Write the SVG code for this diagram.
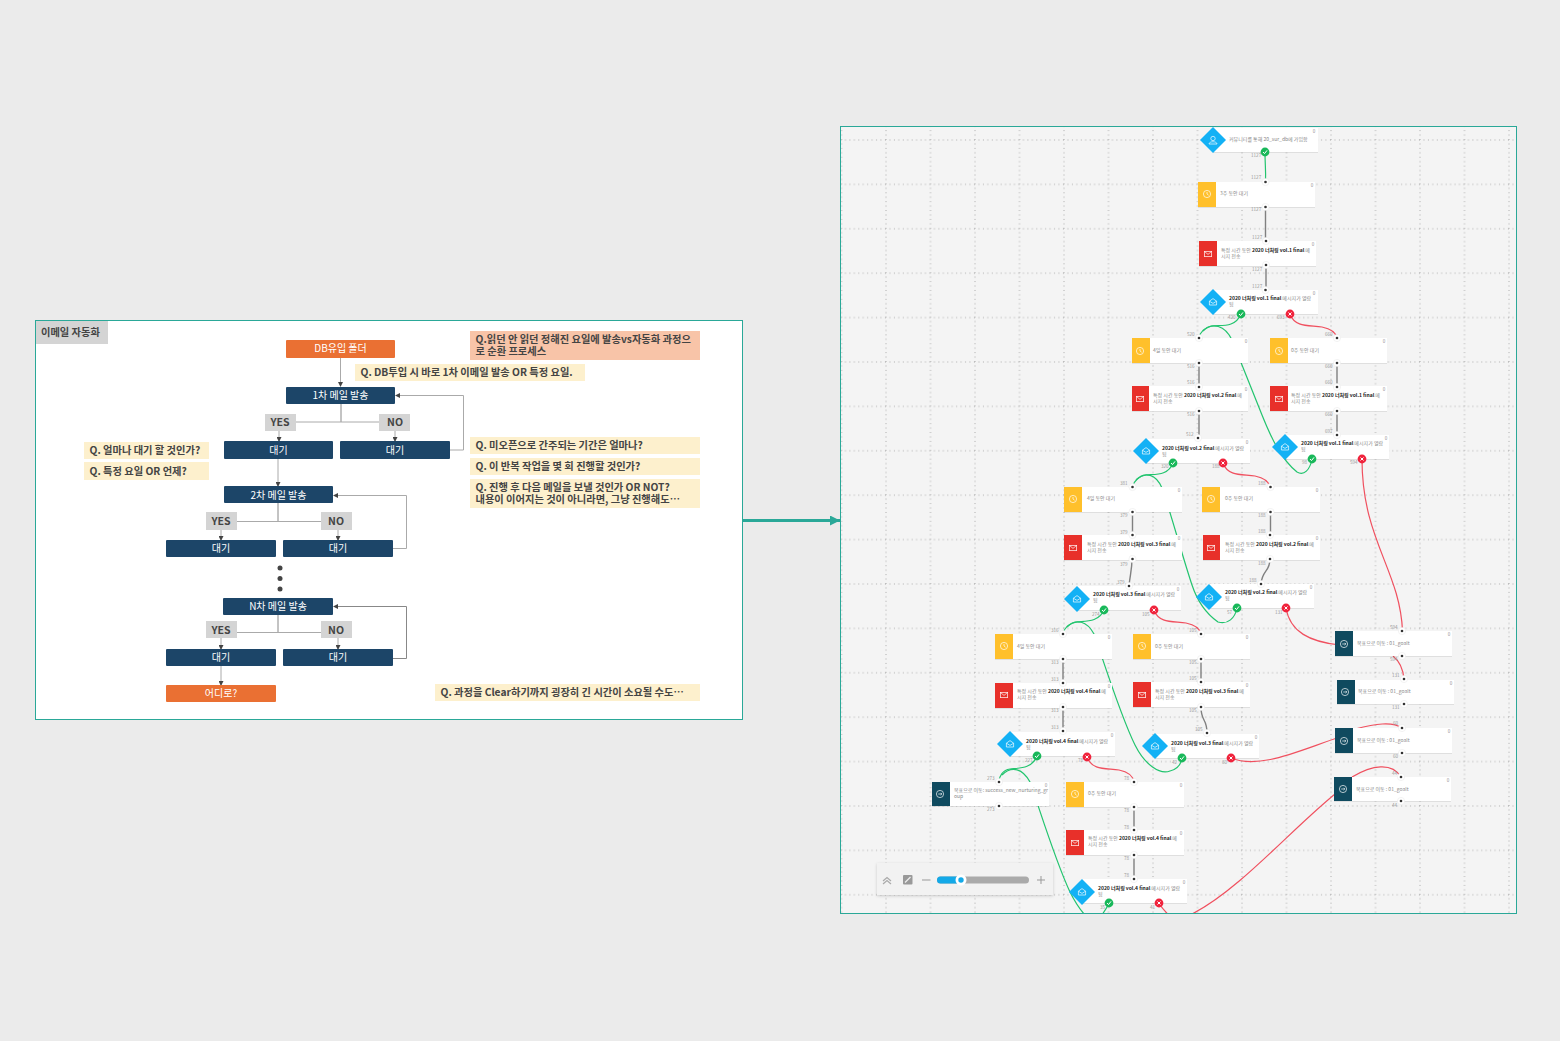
<svg xmlns="http://www.w3.org/2000/svg" width="1560" height="1041" viewBox="0 0 1560 1041">
<style>
text{font-family:"Noto Sans CJK KR","Noto Sans",sans-serif}
.panel{fill:#fff;stroke:#2aa898;stroke-width:1}
.navy{fill:#1c4568}.org{fill:#ea7033}.yn{fill:#d4d4d4}.q{fill:#fdf0cd}.qo{fill:#f8c4a8}
.wt{fill:#fff;font-size:10px;text-anchor:middle}
.ynt{fill:#444;font-size:10.5px;font-weight:700;text-anchor:middle}
.qt{fill:#444;font-size:10.25px;font-weight:700}
.ln{fill:none;stroke:#aaa;stroke-width:1}
.lnd{fill:none;stroke:#888;stroke-width:1}
.card{fill:#fff;filter:url(#sh)}
.yel{fill:#ffc02b}.red{fill:#e8302a}.dark{fill:#0f4a5f}.dia{fill:#13b1f5}
.t{font-size:5px;fill:#888}.b{fill:#222;font-weight:700}
.n{font-size:4.6px;fill:#999}.c{font-size:4.6px;fill:#999;text-anchor:middle}
.g{fill:none;stroke:#22c46e;stroke-width:1.2}
.r{fill:none;stroke:#f0505f;stroke-width:1.2}
.k{fill:none;stroke:#808080;stroke-width:1.4}
.ic{fill:none;stroke:#fff;stroke-width:.8;opacity:.85}
</style>
<defs>
<marker id="ah" markerWidth="5" markerHeight="5" refX="4" refY="2.5" orient="auto" markerUnits="userSpaceOnUse"><path d="M0 0L5 2.5L0 5z" fill="#444"/></marker>
<marker id="big" markerWidth="12" markerHeight="12" refX="10" refY="5" orient="auto" markerUnits="userSpaceOnUse"><path d="M0 0L10 5L0 10z" fill="#2aa898"/></marker>
<filter id="sh" x="-5%" y="-10%" width="110%" height="125%"><feDropShadow dx="0" dy=".6" stdDeviation=".6" flood-color="#000" flood-opacity=".14"/></filter>
<filter id="sh2" x="-5%" y="-10%" width="110%" height="130%"><feDropShadow dx="0" dy="1" stdDeviation="1.5" flood-color="#000" flood-opacity=".18"/></filter>
<pattern id="grid" patternUnits="userSpaceOnUse" x="1152" y="139" width="44.5" height="44.4">
<path d="M1 0V44.4M0 1H44.5" fill="none" stroke="#aaa" stroke-width="1" stroke-dasharray="1 3.44"/>
</pattern>
<clipPath id="clip"><rect x="841" y="127" width="675" height="786"/></clipPath>
<g id="port"><circle r="3.6" fill="#fff" stroke="#e6e6e6" stroke-width=".5"/><circle r="1.3" fill="#333"/></g>
<g id="ok"><circle r="4.4" fill="#19b85a"/><path d="M-2 0L-.5 1.6L2 -1.6" fill="none" stroke="#fff" stroke-width="1"/></g>
<g id="no"><circle r="4.4" fill="#f0233c"/><path d="M-1.5 -1.5L1.5 1.5M1.5 -1.5L-1.5 1.5" fill="none" stroke="#fff" stroke-width="1"/></g>
<g id="clock"><circle r="3.6" class="ic"/><path d="M0 -2V0L1.6 1.2" class="ic"/></g>
<g id="mail"><rect x="-3.6" y="-2.6" width="7.2" height="5.2" class="ic"/><path d="M-3.6 -2.6L0 .4L3.6 -2.6" class="ic"/></g>
<g id="open"><path d="M-3.6 -.8L0 -3.4L3.6 -.8V3H-3.6zM-3.6 -.8L0 1.4L3.6 -.8" class="ic"/></g>
<g id="goal"><circle r="3.6" class="ic"/><path d="M-1.8 0H1.8M.6 -1.2L1.8 0L.6 1.2" class="ic"/></g>
<polygon id="dm" points="0,-13 13,0 0,13 -13,0" class="dia"/>
</defs>
<rect width="1560" height="1041" fill="#ebebeb"/>

<!-- left flow panel -->
<rect class="panel" x="35.5" y="320.5" width="707" height="399"/>
<g id="title"><rect class="yn" x="36" y="321" width="72" height="23"/><text class="qt" x="41" y="336">이메일 자동화</text></g>

<g id="flow-connectors">
<path class="ln" d="M340.500 358V386" marker-end="url(#ah)"/>
<path class="lnd" d="M341 404V422"/><path class="ln" d="M296 422H379"/>
<path class="ln" d="M279 431V441" marker-end="url(#ah)"/><path class="ln" d="M395 431V441" marker-end="url(#ah)"/>
<path class="ln" d="M450 450H463.500V395.500H396" marker-end="url(#ah)"/>
<path class="ln" d="M278 459V486" marker-end="url(#ah)"/>
<path class="lnd" d="M278 503V521.500"/><path class="ln" d="M237 521.500H321"/>
<path class="ln" d="M221 530V540" marker-end="url(#ah)"/><path class="ln" d="M338 530V540" marker-end="url(#ah)"/>
<path class="ln" d="M393 548.500H406.500V495.500H334" marker-end="url(#ah)"/>
<path class="lnd" d="M278 615V632.500"/><path class="ln" d="M237 632.500H321"/>
<path class="ln" d="M221 638V649" marker-end="url(#ah)"/><path class="ln" d="M338 638V649" marker-end="url(#ah)"/>
<path class="lnd" d="M393 658.500H406.500V606.500H334" marker-end="url(#ah)"/>
<path class="ln" d="M221 666V685" marker-end="url(#ah)"/>
</g>

<g id="f-db"><rect class="org" x="286" y="340" width="109" height="18" rx="1"/><text class="wt" x="340.500" y="352">DB유입 폴더</text></g>
<g id="f-m1"><rect class="navy" x="286" y="387" width="109" height="17" rx="1"/><text class="wt" x="340.500" y="399">1차 메일 발송</text></g>
<g id="f-y1"><rect class="yn" x="265" y="414" width="31" height="17"/><text class="ynt" x="280" y="426">YES</text></g>
<g id="f-n1"><rect class="yn" x="379" y="414" width="31" height="17"/><text class="ynt" x="395" y="426">NO</text></g>
<g id="f-w1"><rect class="navy" x="224" y="441" width="109" height="18" rx="1"/><text class="wt" x="278.500" y="453.500">대기</text></g>
<g id="f-w2"><rect class="navy" x="340" y="441" width="110" height="18" rx="1"/><text class="wt" x="395" y="453.500">대기</text></g>
<g id="f-m2"><rect class="navy" x="224" y="486" width="109" height="17" rx="1"/><text class="wt" x="278.500" y="498.500">2차 메일 발송</text></g>
<g id="f-y2"><rect class="yn" x="206" y="512" width="31" height="18"/><text class="ynt" x="221" y="524.500">YES</text></g>
<g id="f-n2"><rect class="yn" x="321" y="512" width="31" height="18"/><text class="ynt" x="336" y="524.500">NO</text></g>
<g id="f-w3"><rect class="navy" x="166" y="540" width="110" height="17" rx="1"/><text class="wt" x="221" y="552">대기</text></g>
<g id="f-w4"><rect class="navy" x="283" y="540" width="110" height="17" rx="1"/><text class="wt" x="338" y="552">대기</text></g>
<g id="f-dots" fill="#444"><circle cx="280" cy="568" r="2.500"/><circle cx="280" cy="578.500" r="2.500"/><circle cx="280" cy="589" r="2.500"/></g>
<g id="f-mn"><rect class="navy" x="223" y="598" width="110" height="17" rx="1"/><text class="wt" x="278" y="610">N차 메일 발송</text></g>
<g id="f-y3"><rect class="yn" x="206" y="621" width="31" height="17"/><text class="ynt" x="221" y="633.500">YES</text></g>
<g id="f-n3"><rect class="yn" x="321" y="621" width="31" height="17"/><text class="ynt" x="336" y="633.500">NO</text></g>
<g id="f-w5"><rect class="navy" x="166" y="649" width="110" height="17" rx="1"/><text class="wt" x="221" y="661">대기</text></g>
<g id="f-w6"><rect class="navy" x="283" y="649" width="110" height="17" rx="1"/><text class="wt" x="338" y="661">대기</text></g>
<g id="f-end"><rect class="org" x="166" y="685" width="110" height="17" rx="1"/><text class="wt" x="221" y="697">어디로?</text></g>

<g id="q1"><rect class="qo" x="470" y="331" width="230" height="29"/><text class="qt" x="475.500" y="343">Q.읽던 안 읽던 정해진 요일에 발송vs자동화 과정으</text><text class="qt" x="475.500" y="355">로 순환 프로세스</text></g>
<g id="q2"><rect class="q" x="355" y="364" width="230" height="17"/><text class="qt" x="360.500" y="376">Q. DB투입 시 바로 1차 이메일 발송 OR 특정 요일.</text></g>
<g id="q3"><rect class="q" x="84" y="442" width="125" height="17"/><text class="qt" x="89.500" y="454">Q. 얼마나 대기 할 것인가?</text></g>
<g id="q4"><rect class="q" x="84" y="462" width="125" height="18"/><text class="qt" x="89.500" y="475">Q. 특정 요일 OR 언제?</text></g>
<g id="q5"><rect class="q" x="470" y="437" width="230" height="17"/><text class="qt" x="475.500" y="449">Q. 미오픈으로 간주되는 기간은 얼마나?</text></g>
<g id="q6"><rect class="q" x="470" y="458" width="230" height="17"/><text class="qt" x="475.500" y="470">Q. 이 반복 작업을 몇 회 진행할 것인가?</text></g>
<g id="q7"><rect class="q" x="470" y="479" width="230" height="29"/><text class="qt" x="475.500" y="491">Q. 진행 후 다음 메일을 보낼 것인가 OR NOT?</text><text class="qt" x="475.500" y="503">내용이 이어지는 것이 아니라면, 그냥 진행해도…</text></g>
<g id="q8"><rect class="q" x="435" y="684" width="265" height="17"/><text class="qt" x="440.500" y="696">Q. 과정을 Clear하기까지 굉장히 긴 시간이 소요될 수도…</text></g>

<g id="link"><path d="M743 520.500H840" fill="none" stroke="#2aa898" stroke-width="3" marker-end="url(#big)"/></g>

<!-- right automation canvas -->
<rect x="840.500" y="126.500" width="676" height="787" fill="#f4f4f4"/>
<rect x="841" y="127" width="675" height="786" fill="url(#grid)"/>
<g clip-path="url(#clip)">
<g id="connectors">
<path class="g" d="M1265 152C1265 165 1266 170 1265.500 182"/>
<path class="k" d="M1265.500 207V241M1266 265V290"/>
<path class="g" d="M1241 314C1235 328 1222 325 1212 326C1205 327 1200 332 1199 338"/>
<path class="g" d="M1203 331C1212 322 1225 325 1232 340C1240 360 1250 385 1262 415C1272 440 1282 460 1297 472C1304 476 1310 470 1312 459"/>
<path class="r" d="M1290 314C1295 328 1310 325 1322 327C1332 329 1336 333 1337 338"/>
<path class="k" d="M1199 363V387M1199 411V438M1337 363V387M1337 411V435"/>
<path class="g" d="M1173 463C1168 476 1155 474 1146 475C1139 476 1134 481 1133 486"/>
<path class="g" d="M1136 480C1145 471 1156 474 1162 488C1170 510 1182 555 1192 585C1198 603 1208 615 1218 622C1228 625 1235 618 1237 608"/>
<path class="r" d="M1223 463C1228 477 1243 474 1255 476C1265 478 1269 482 1270 487"/>
<path class="k" d="M1132.500 512V535M1132 559C1132 570 1130 575 1129 586M1270.500 512V535M1270 559C1270 572 1262 570 1261 584"/>
<path class="g" d="M1104 610C1099 622 1086 621 1077 622C1069 623 1064 628 1063 634"/>
<path class="g" d="M1067 627C1076 618 1087 621 1094 634C1100 650 1120 715 1135 745C1145 765 1160 775 1170 771C1178 769 1181 765 1182 758"/>
<path class="r" d="M1154 610C1159 624 1174 621 1186 623C1196 625 1200 629 1201 634"/>
<path class="k" d="M1063 659V683M1063 707V731M1201 659V682M1201 707C1201 722 1207 718 1207 733"/>
<path class="g" d="M1037 756C1032 769 1019 768 1010 769C1003 770 999 776 999 782"/>
<path class="g" d="M1002 775C1012 765 1023 769 1030 782C1040 810 1055 860 1070 892C1080 912 1086 916 1090 920"/>
<path class="r" d="M1087 757C1092 771 1107 768 1119 770C1129 772 1133 776 1134 782"/>
<path class="k" d="M1134 807V830M1134 855V879"/>
<path class="g" d="M1109 903C1106 910 1102 915 1098 920"/>
<path class="r" d="M1159 903C1163 910 1168 915 1175 920"/>
<path class="r" d="M1362 459C1362 540 1400 570 1402.500 631"/>
<path class="r" d="M1286 608C1290 632 1310 642 1340 645"/>
<path class="r" d="M1393 656C1398 660 1403 668 1404 679"/>
<path class="r" d="M1231 758C1260 770 1300 750 1340 737"/>
<path class="r" d="M1355 729C1375 724 1392 721 1402 728"/>
<path class="r" d="M1192 914C1240 890 1295 825 1340 790"/>
<path class="r" d="M1352 777C1372 765 1392 762 1401 777"/>
</g>

<g id="n01"><rect class="card" x="1213" y="128" width="105" height="24"/><use href="#dm" x="1213" y="140"/><g class="ic"><circle cx="1213" cy="138.500" r="2.200"/><path d="M1209 144C1209 141 1217 141 1217 144z"/></g><text class="t" x="1229" y="141">커뮤니티를 통해 20_sur_db에 가입함</text><text class="c" x="1314" y="133">0</text><use href="#ok" x="1265" y="152"/><text class="n" x="1251" y="157">1127</text></g>
<g id="n02"><rect class="card" x="1198" y="182" width="117" height="25"/><rect class="yel" x="1198" y="182" width="18" height="25"/><use href="#clock" x="1207" y="194"/><text class="t" x="1220" y="195">3주 동안 대기</text><text class="c" x="1312" y="187">0</text><use href="#port" x="1265.500" y="182"/><use href="#port" x="1265.500" y="207"/><text class="n" x="1251" y="179">1127</text><text class="n" x="1251" y="211">1127</text></g>
<g id="n03"><rect class="card" x="1199" y="241" width="117" height="25"/><rect class="red" x="1199" y="241" width="18" height="25"/><use href="#mail" x="1208" y="254"/><text class="t" x="1221" y="252">특정 시간 동안 <tspan class="b">2020 너처링 vol.1 final</tspan> 메</text><text class="t" x="1221" y="258">시지 전송</text><text class="c" x="1313" y="246">0</text><use href="#port" x="1266" y="241"/><use href="#port" x="1266" y="265"/><text class="n" x="1252" y="239">1127</text><text class="n" x="1252" y="271">1127</text></g>
<g id="n04"><rect class="card" x="1213" y="290" width="105" height="24"/><use href="#dm" x="1213" y="302"/><use href="#open" x="1213" y="302"/><text class="t" x="1229" y="300"><tspan class="b">2020 너처링 vol.1 final</tspan> 메시지가 열람</text><text class="t" x="1229" y="306">됨</text><text class="c" x="1314" y="295">0</text><use href="#port" x="1265.500" y="290"/><text class="n" x="1252" y="288">1127</text><use href="#ok" x="1241" y="314"/><use href="#no" x="1290" y="314"/><text class="n" x="1228" y="319">420</text><text class="n" x="1277" y="319">693</text></g>

<g id="n05"><rect class="card" x="1132" y="338" width="116" height="25"/><rect class="yel" x="1132" y="338" width="18" height="25"/><use href="#clock" x="1140" y="351"/><text class="t" x="1153" y="352">4일 동안 대기</text><text class="c" x="1246" y="343">0</text><use href="#port" x="1199" y="338"/><use href="#port" x="1199" y="363"/><text class="n" x="1187" y="336">520</text><text class="n" x="1187" y="368">516</text></g>
<g id="n06"><rect class="card" x="1132" y="386" width="116" height="25"/><rect class="red" x="1132" y="386" width="17" height="25"/><use href="#mail" x="1140" y="399"/><text class="t" x="1153" y="397">특정 시간 동안 <tspan class="b">2020 너처링 vol.2 final</tspan> 메</text><text class="t" x="1153" y="403">시지 전송</text><text class="c" x="1246" y="391">0</text><use href="#port" x="1199" y="387"/><use href="#port" x="1199" y="411"/><text class="n" x="1187" y="384">516</text><text class="n" x="1187" y="416">516</text></g>
<g id="n07"><rect class="card" x="1146" y="439" width="104" height="24"/><use href="#dm" x="1146" y="451"/><use href="#open" x="1146" y="451"/><text class="t" x="1162" y="450"><tspan class="b">2020 너처링 vol.2 final</tspan> 메시지가 열람</text><text class="t" x="1162" y="456">됨</text><text class="c" x="1247" y="444">0</text><use href="#port" x="1198" y="438"/><text class="n" x="1186" y="436">512</text><use href="#ok" x="1173" y="463"/><use href="#no" x="1223" y="463"/><text class="n" x="1161" y="468">320</text><text class="n" x="1212" y="468">188</text></g>
<g id="n08"><rect class="card" x="1270" y="338" width="117" height="25"/><rect class="yel" x="1270" y="338" width="18" height="25"/><use href="#clock" x="1279" y="351"/><text class="t" x="1291" y="352">0주 동안 대기</text><text class="c" x="1384" y="343">0</text><use href="#port" x="1337" y="338"/><use href="#port" x="1337" y="363"/><text class="n" x="1325" y="336">660</text><text class="n" x="1325" y="368">660</text></g>
<g id="n09"><rect class="card" x="1270" y="386" width="117" height="25"/><rect class="red" x="1270" y="386" width="18" height="25"/><use href="#mail" x="1279" y="399"/><text class="t" x="1291" y="397">특정 시간 동안 <tspan class="b">2020 너처링 vol.1 final</tspan> 메</text><text class="t" x="1291" y="403">시지 전송</text><text class="c" x="1384" y="391">0</text><use href="#port" x="1337" y="387"/><use href="#port" x="1337" y="411"/><text class="n" x="1325" y="384">660</text><text class="n" x="1325" y="416">660</text></g>
<g id="n10"><rect class="card" x="1285" y="435" width="104" height="24"/><use href="#dm" x="1285" y="447"/><use href="#open" x="1285" y="447"/><text class="t" x="1301" y="445"><tspan class="b">2020 너처링 vol.1 final</tspan> 메시지가 열람</text><text class="t" x="1301" y="451">됨</text><text class="c" x="1386" y="440">0</text><use href="#port" x="1337" y="435"/><text class="n" x="1325" y="433">697</text><use href="#ok" x="1312" y="459"/><use href="#no" x="1362" y="459"/><text class="n" x="1302" y="464">98</text><text class="n" x="1350" y="464">594</text></g>

<g id="n11"><rect class="card" x="1064" y="487" width="118" height="25"/><rect class="yel" x="1064" y="487" width="18" height="25"/><use href="#clock" x="1073" y="499"/><text class="t" x="1087" y="500">4일 동안 대기</text><text class="c" x="1179" y="492">0</text><use href="#port" x="1132.500" y="487"/><use href="#port" x="1132.500" y="512"/><text class="n" x="1120" y="485">381</text><text class="n" x="1120" y="517">379</text></g>
<g id="n12"><rect class="card" x="1064" y="535" width="118" height="25"/><rect class="red" x="1064" y="535" width="18" height="25"/><use href="#mail" x="1073" y="548"/><text class="t" x="1087" y="546">특정 시간 동안 <tspan class="b">2020 너처링 vol.3 final</tspan> 메</text><text class="t" x="1087" y="552">시지 전송</text><text class="c" x="1179" y="540">0</text><use href="#port" x="1132.500" y="535"/><use href="#port" x="1132.500" y="559"/><text class="n" x="1120" y="534">379</text><text class="n" x="1120" y="566">379</text></g>
<g id="n13"><rect class="card" x="1077" y="586" width="104" height="24"/><use href="#dm" x="1077" y="599"/><use href="#open" x="1077" y="599"/><text class="t" x="1093" y="596"><tspan class="b">2020 너처링 vol.3 final</tspan> 메시지가 열람</text><text class="t" x="1093" y="602">됨</text><text class="c" x="1178" y="591">0</text><use href="#port" x="1129" y="586"/><text class="n" x="1117" y="584">379</text><use href="#ok" x="1104" y="610"/><use href="#no" x="1154" y="610"/><text class="n" x="1092" y="616">274</text><text class="n" x="1142" y="616">105</text></g>
<g id="n14"><rect class="card" x="1202" y="487" width="118" height="25"/><rect class="yel" x="1202" y="487" width="18" height="25"/><use href="#clock" x="1211" y="499"/><text class="t" x="1225" y="500">0주 동안 대기</text><text class="c" x="1317" y="492">0</text><use href="#port" x="1270.500" y="487"/><use href="#port" x="1270.500" y="512"/><text class="n" x="1258" y="485">188</text><text class="n" x="1258" y="517">188</text></g>
<g id="n15"><rect class="card" x="1203" y="535" width="117" height="25"/><rect class="red" x="1203" y="535" width="17" height="25"/><use href="#mail" x="1211" y="548"/><text class="t" x="1225" y="546">특정 시간 동안 <tspan class="b">2020 너처링 vol.2 final</tspan> 메</text><text class="t" x="1225" y="552">시지 전송</text><text class="c" x="1317" y="540">0</text><use href="#port" x="1270" y="535"/><use href="#port" x="1270" y="559"/><text class="n" x="1258" y="533">188</text><text class="n" x="1258" y="565">188</text></g>
<g id="n16"><rect class="card" x="1209" y="584" width="105" height="24"/><use href="#dm" x="1209" y="597"/><use href="#open" x="1209" y="597"/><text class="t" x="1225" y="594"><tspan class="b">2020 너처링 vol.2 final</tspan> 메시지가 열람</text><text class="t" x="1225" y="600">됨</text><text class="c" x="1311" y="589">0</text><use href="#port" x="1261" y="584"/><text class="n" x="1249" y="582">188</text><use href="#ok" x="1237" y="608"/><use href="#no" x="1286" y="608"/><text class="n" x="1227" y="614">57</text><text class="n" x="1275" y="614">131</text></g>

<g id="n17"><rect class="card" x="995" y="634" width="117" height="25"/><rect class="yel" x="995" y="634" width="18" height="25"/><use href="#clock" x="1004" y="646"/><text class="t" x="1017" y="648">4일 동안 대기</text><text class="c" x="1109" y="639">0</text><use href="#port" x="1063" y="634"/><use href="#port" x="1063" y="659"/><text class="n" x="1051" y="632">316</text><text class="n" x="1051" y="664">313</text></g>
<g id="n18"><rect class="card" x="995" y="683" width="117" height="25"/><rect class="red" x="995" y="683" width="18" height="25"/><use href="#mail" x="1004" y="695"/><text class="t" x="1017" y="693">특정 시간 동안 <tspan class="b">2020 너처링 vol.4 final</tspan> 메</text><text class="t" x="1017" y="699">시지 전송</text><text class="c" x="1109" y="688">0</text><use href="#port" x="1063" y="683"/><use href="#port" x="1063" y="707"/><text class="n" x="1051" y="681">313</text><text class="n" x="1051" y="712">313</text></g>
<g id="n19"><rect class="card" x="1010" y="732" width="105" height="24"/><use href="#dm" x="1010" y="744"/><use href="#open" x="1010" y="744"/><text class="t" x="1026" y="743"><tspan class="b">2020 너처링 vol.4 final</tspan> 메시지가 열람</text><text class="t" x="1026" y="749">됨</text><text class="c" x="1112" y="737">0</text><use href="#port" x="1063" y="731"/><text class="n" x="1051" y="729">313</text><use href="#ok" x="1037" y="756"/><use href="#no" x="1087" y="757"/><text class="n" x="1025" y="762">227</text><text class="n" x="1078" y="762">78</text></g>
<g id="n20"><rect class="card" x="1133" y="634" width="117" height="25"/><rect class="yel" x="1133" y="634" width="18" height="25"/><use href="#clock" x="1142" y="646"/><text class="t" x="1155" y="648">0주 동안 대기</text><text class="c" x="1247" y="639">0</text><use href="#port" x="1201" y="634"/><use href="#port" x="1201" y="659"/><text class="n" x="1189" y="632">105</text><text class="n" x="1189" y="664">105</text></g>
<g id="n21"><rect class="card" x="1133" y="682" width="117" height="25"/><rect class="red" x="1133" y="682" width="18" height="25"/><use href="#mail" x="1142" y="695"/><text class="t" x="1155" y="693">특정 시간 동안 <tspan class="b">2020 너처링 vol.3 final</tspan> 메</text><text class="t" x="1155" y="699">시지 전송</text><text class="c" x="1247" y="687">0</text><use href="#port" x="1201" y="682"/><use href="#port" x="1201" y="707"/><text class="n" x="1189" y="680">105</text><text class="n" x="1189" y="712">105</text></g>
<g id="n22"><rect class="card" x="1155" y="734" width="104" height="24"/><use href="#dm" x="1155" y="746"/><use href="#open" x="1155" y="746"/><text class="t" x="1171" y="745"><tspan class="b">2020 너처링 vol.3 final</tspan> 메시지가 열람</text><text class="t" x="1171" y="751">됨</text><text class="c" x="1256" y="739">0</text><use href="#port" x="1207" y="733"/><text class="n" x="1195" y="731">105</text><use href="#ok" x="1182" y="758"/><use href="#no" x="1231" y="758"/><text class="n" x="1172" y="764">42</text><text class="n" x="1222" y="764">60</text></g>

<g id="n23"><rect class="card" x="932" y="782" width="117" height="24"/><rect class="dark" x="932" y="782" width="18" height="24"/><use href="#goal" x="940" y="794"/><text class="t" x="954" y="792">목표으로 이동: success_new_nurturing_gr</text><text class="t" x="954" y="798">oup</text><text class="c" x="1046" y="787">0</text><use href="#port" x="999" y="782"/><use href="#port" x="999" y="806"/><text class="n" x="987" y="780">273</text><text class="n" x="987" y="811">273</text></g>
<g id="n24"><rect class="card" x="1066" y="782" width="118" height="25"/><rect class="yel" x="1066" y="782" width="18" height="25"/><use href="#clock" x="1075" y="794"/><text class="t" x="1088" y="795">0주 동안 대기</text><text class="c" x="1181" y="787">0</text><use href="#port" x="1134" y="782"/><use href="#port" x="1134" y="807"/><text class="n" x="1124" y="780">78</text><text class="n" x="1124" y="812">78</text></g>
<g id="n25"><rect class="card" x="1066" y="830" width="118" height="25"/><rect class="red" x="1066" y="830" width="18" height="25"/><use href="#mail" x="1075" y="843"/><text class="t" x="1088" y="840">특정 시간 동안 <tspan class="b">2020 너처링 vol.4 final</tspan> 메</text><text class="t" x="1088" y="846">시지 전송</text><text class="c" x="1181" y="835">0</text><use href="#port" x="1134" y="830"/><use href="#port" x="1134" y="855"/><text class="n" x="1124" y="829">78</text><text class="n" x="1124" y="860">78</text></g>
<g id="n26"><rect class="card" x="1082" y="879" width="105" height="24"/><use href="#dm" x="1082" y="892"/><use href="#open" x="1082" y="892"/><text class="t" x="1098" y="890"><tspan class="b">2020 너처링 vol.4 final</tspan> 메시지가 열람</text><text class="t" x="1098" y="896">됨</text><text class="c" x="1184" y="884">0</text><use href="#port" x="1134" y="879"/><text class="n" x="1124" y="877">78</text><use href="#ok" x="1109" y="903"/><use href="#no" x="1159" y="903"/><text class="n" x="1100" y="909">35</text><text class="n" x="1150" y="909">41</text></g>

<g id="n27"><rect class="card" x="1335" y="631" width="117" height="25"/><rect class="dark" x="1335" y="631" width="18" height="25"/><use href="#goal" x="1344" y="644"/><text class="t" x="1357" y="645">목표으로 이동 : 01_goalt</text><text class="c" x="1449" y="636">0</text><use href="#port" x="1402" y="631"/><use href="#port" x="1402" y="656"/><text class="n" x="1390" y="629">594</text><text class="n" x="1390" y="661">594</text></g>
<g id="n28"><rect class="card" x="1337" y="680" width="117" height="24"/><rect class="dark" x="1337" y="680" width="18" height="24"/><use href="#goal" x="1345" y="692"/><text class="t" x="1358" y="693">목표으로 이동 : 01_goalt</text><text class="c" x="1451" y="685">0</text><use href="#port" x="1404" y="679"/><use href="#port" x="1404" y="704"/><text class="n" x="1392" y="677">131</text><text class="n" x="1392" y="709">131</text></g>
<g id="n29"><rect class="card" x="1335" y="728" width="117" height="25"/><rect class="dark" x="1335" y="728" width="18" height="25"/><use href="#goal" x="1344" y="741"/><text class="t" x="1357" y="742">목표으로 이동 : 01_goalt</text><text class="c" x="1449" y="733">0</text><use href="#port" x="1402" y="728"/><use href="#port" x="1402" y="753"/><text class="n" x="1393" y="725">60</text><text class="n" x="1393" y="758">60</text></g>
<g id="n30"><rect class="card" x="1334" y="777" width="117" height="24"/><rect class="dark" x="1334" y="777" width="18" height="24"/><use href="#goal" x="1343" y="789"/><text class="t" x="1356" y="791">목표으로 이동 : 01_goalt</text><text class="c" x="1448" y="782">0</text><use href="#port" x="1401" y="777"/><use href="#port" x="1401" y="801"/><text class="n" x="1392" y="775">44</text><text class="n" x="1392" y="807">44</text></g>
</g>
<rect x="840.500" y="126.500" width="676" height="787" fill="none" stroke="#2aa898"/>

<g id="toolbar">
<rect x="877" y="863" width="176" height="32" fill="#f2f2f2" filter="url(#sh2)"/>
<path d="M883 881L887 877.500L891 881M883 884L887 880.500L891 884" fill="none" stroke="#aaa" stroke-width="1.200"/>
<rect x="903" y="875" width="9.500" height="9.500" rx="1" fill="#999"/><path d="M905 882.500L910.500 877" stroke="#eee" stroke-width="1.200"/>
<path d="M922 880H930.500M1037 880H1045M1041 876V884" stroke="#999" stroke-width="1"/>
<rect x="937" y="876.500" width="92" height="7" rx="3.500" fill="#aaa"/>
<rect x="937" y="876.500" width="26" height="7" rx="3.500" fill="#13a9e8"/>
<circle cx="961" cy="880" r="5.500" fill="#fff"/><circle cx="961" cy="880" r="2.700" fill="#13a9e8"/>
</g>
</svg>
